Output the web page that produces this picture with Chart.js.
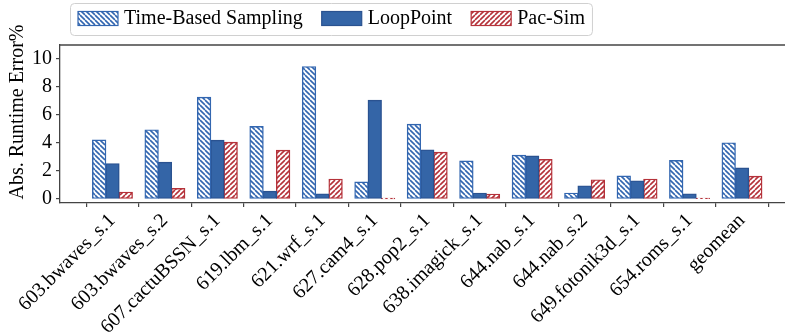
<!DOCTYPE html>
<html>
<head>
<meta charset="utf-8">
<script src="https://cdn.jsdelivr.net/npm/chart.js@4.4.1/dist/chart.umd.min.js"></script>
<style>
  html, body { margin: 0; padding: 0; background: #fff; }
  #wrap { width: 785px; height: 333px; }
</style>
</head>
<body>
<div id="wrap"><canvas id="chartErr"></canvas></div>
<script>
const categories = ['603.bwaves_s.1', '603.bwaves_s.2', '607.cactuBSSN_s.1', '619.lbm_s.1', '621.wrf_s.1',
    '627.cam4_s.1', '628.pop2_s.1', '638.imagick_s.1', '644.nab_s.1', '644.nab_s.2',
    '649.fotonik3d_s.1', '654.roms_s.1', 'geomean'];
const timeBased = [4.21, 4.93, 7.26, 5.17, 9.45, 1.21, 5.33, 2.71, 3.12, 0.41, 1.64, 2.74, 4.00];
const loopPoint = [2.52, 2.62, 4.19, 0.55, 0.36, 7.05, 3.50, 0.41, 3.07, 0.93, 1.29, 0.36, 2.21];
const pacSim = [0.48, 0.74, 4.05, 3.48, 1.41, 0.02, 3.33, 0.34, 2.81, 1.36, 1.41, 0.03, 1.62];
const yTicks = [0, 2, 4, 6, 8, 10];

const FONT = 'Liberation Serif';
const BLUE = '#3266b0';
const BLUE_FILL = '#3465a7';
const BLUE_EDGE = '#2a5290';
const RED = '#b5323a';

Chart.defaults.font.family = FONT;
Chart.defaults.font.size = 20;
Chart.defaults.color = '#000';

// diagonal hatch fill, like matplotlib '\\\\' and '////'
function hatch(color, dir) {
    const s = 5;
    const c = document.createElement('canvas');
    c.width = s; c.height = s;
    const g = c.getContext('2d');
    g.fillStyle = '#fff';
    g.fillRect(0, 0, s, s);
    g.strokeStyle = color;
    g.lineWidth = 1.6;
    g.beginPath();
    for (const k of [-s, 0, s]) {
        if (dir === '\\') { g.moveTo(k, 0); g.lineTo(k + s, s); }
        else { g.moveTo(k, s); g.lineTo(k + s, 0); }
    }
    g.stroke();
    return g.createPattern(c, 'repeat');
}

const toXY = arr => arr.map((v, i) => ({ x: i, y: v }));

// legend frame + top spine + y title
const extras = {
    id: 'extras',
    afterDraw(chart) {
        const ctx = chart.ctx;
        const a = chart.chartArea;
        ctx.save();
        ctx.strokeStyle = '#444';
        ctx.lineWidth = 1.3;
        ctx.beginPath();
        ctx.moveTo(a.left, a.top);
        ctx.lineTo(a.right, a.top);
        ctx.stroke();

        ctx.font = '20px "' + FONT + '"';
        ctx.fillStyle = '#000';
        ctx.save();
        ctx.translate(18, 112);
        ctx.rotate(-Math.PI / 2);
        ctx.textAlign = 'center';
        ctx.textBaseline = 'middle';
        ctx.fillText('Abs. Runtime Error%', 0, 0);
        ctx.restore();

        // legend
        const ds = chart.data.datasets;
        let x = 78;
        const items = [];
        ds.forEach(d => {
            const w = ctx.measureText(d.label).width;
            items.push({ d, x, w });
            x += 40 + 6 + w + 19;
        });
        const right = x - 19 + 7;
        ctx.fillStyle = 'rgba(255,255,255,0.9)';
        ctx.strokeStyle = '#d0d0d0';
        ctx.lineWidth = 1;
        ctx.beginPath();
        ctx.roundRect(70.5, 3.5, right - 70, 32, 4);
        ctx.fill();
        ctx.stroke();
        items.forEach(it => {
            ctx.fillStyle = it.d.backgroundColor;
            ctx.fillRect(it.x, 11.5, 40, 14);
            ctx.strokeStyle = it.d.borderColor;
            ctx.lineWidth = 1.2;
            ctx.strokeRect(it.x, 11.5, 40, 14);
            ctx.fillStyle = '#000';
            ctx.textAlign = 'left';
            ctx.textBaseline = 'middle';
            ctx.fillText(it.d.label, it.x + 46, 19);
        });
        ctx.restore();
    }
};

const ctxErr = document.getElementById('chartErr').getContext('2d');
const chartErr = new Chart(ctxErr, {
    type: 'bar',
    data: {
        datasets: [{
            label: 'Time-Based Sampling',
            data: toXY(timeBased),
            backgroundColor: hatch(BLUE, '\\'),
            borderColor: BLUE,
            borderWidth: 1.4,
            borderSkipped: false,
            inflateAmount: 0.5
        }, {
            label: 'LoopPoint',
            data: toXY(loopPoint),
            backgroundColor: BLUE_FILL,
            borderColor: BLUE_EDGE,
            borderWidth: 1.4,
            borderSkipped: false,
            inflateAmount: 0.5
        }, {
            label: 'Pac-Sim',
            data: toXY(pacSim),
            backgroundColor: hatch(RED, '/'),
            borderColor: RED,
            borderWidth: 1.4,
            borderSkipped: false,
            inflateAmount: 0.5
        }]
    },
    options: {
        responsive: true,
        maintainAspectRatio: false,
        animation: false,
        layout: { padding: { top: 45, right: 0, left: 0, bottom: 0 } },
        categoryPercentage: 0.76,
        barPercentage: 1.0,
        plugins: {
            legend: { display: false },
            tooltip: { enabled: false }
        },
        scales: {
            x: {
                type: 'linear',
                min: -1.0,
                max: 12.82,
                offset: false,
                afterBuildTicks: s => { s.ticks = categories.map((c, i) => ({ value: i })); },
                afterFit: s => { s.height = 130; },
                ticks: {
                    autoSkip: false,
                    minRotation: 45,
                    maxRotation: 45,
                    padding: 2,
                    color: '#000',
                    font: { family: FONT, size: 20 },
                    callback: v => categories[v]
                },
                grid: { drawOnChartArea: false, drawTicks: true, tickLength: 4, color: '#444', lineWidth: 1.2 },
                border: { color: '#444', width: 1.3 }
            },
            y: {
                min: -0.29,
                max: 11.0,
                afterBuildTicks: s => { s.ticks = yTicks.map(v => ({ value: v })); },
                afterFit: s => { s.width = 60; },
                ticks: {
                    padding: 4,
                    color: '#000',
                    font: { family: FONT, size: 20 }
                },
                grid: { drawOnChartArea: false, drawTicks: true, tickLength: 4, color: '#444', lineWidth: 1.2 },
                border: { color: '#444', width: 1.3 }
            }
        }
    },
    plugins: [extras]
});
</script>
</body>
</html>
